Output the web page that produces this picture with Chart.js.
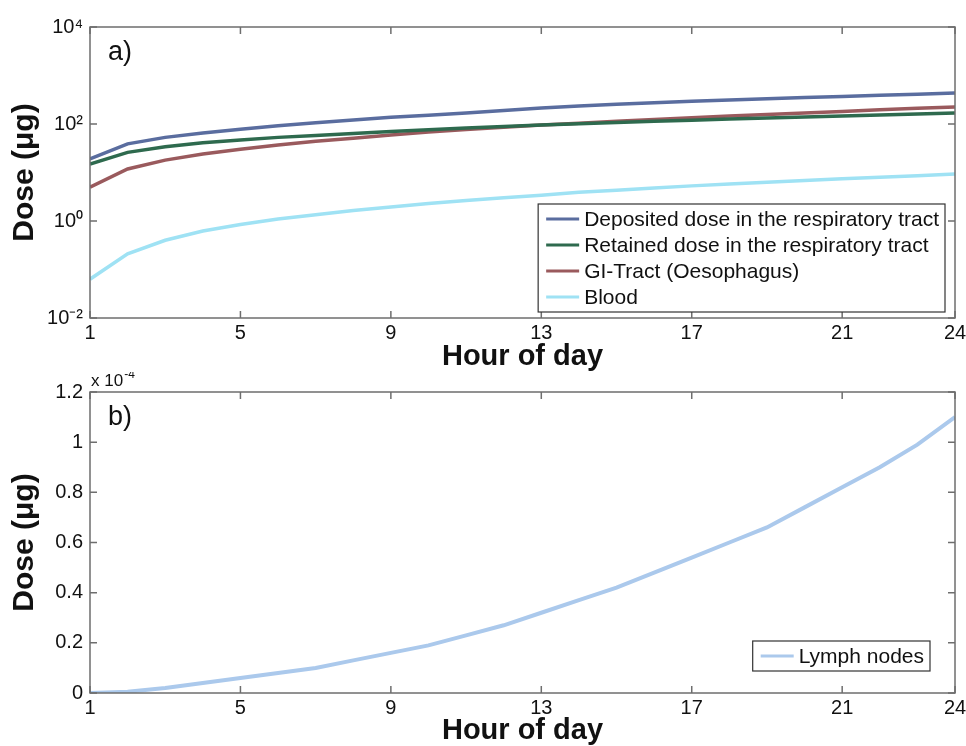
<!DOCTYPE html>
<html>
<head>
<meta charset="utf-8">
<script src="https://cdn.jsdelivr.net/npm/chart.js@4.4.1/dist/chart.umd.min.js"></script>
<style>
  html, body { margin: 0; padding: 0; background: #fff; }
  #wrap { position: relative; width: 966px; height: 746px; }
  #c1 { position: absolute; left: 0; top: 0; }
  #c2 { position: absolute; left: 0; top: 372px; }
</style>
</head>
<body>
<div id="wrap">
  <canvas id="c1" width="966" height="372"></canvas>
  <canvas id="c2" width="966" height="374"></canvas>
</div>
<script>
// ---- Data ----
const hours = [1,2,3,4,5,6,7,8,9,10,11,12,13,14,15,16,17,18,19,20,21,22,23,24];
const deposited = [19,39,53,65,78,92,106,121,138,152,168,190,213,234,254,274,293,312,331,350,370,392,413,435];
const retained  = [15,26,34,41,47,53,58,64,70,76,83,89,95,101,107,114,120,127,133,140,147,154,161,169];
const giTract   = [5,11.8,18,24,30,37,44,51,59,68,77,86,95,104,114,124,135,146,157,169,182,196,210,224];
const blood     = [0.063,0.21,0.40,0.62,0.85,1.1,1.35,1.65,1.95,2.3,2.65,3.0,3.4,3.9,4.3,4.8,5.3,5.8,6.3,6.8,7.4,8.0,8.6,9.3];
// lymph nodes dose in units of 1e-4 µg
const lymph     = [0,0.005,0.02,0.04,0.06,0.08,0.10,0.13,0.16,0.19,0.23,0.27,0.32,0.37,0.42,0.48,0.54,0.60,0.66,0.74,0.82,0.90,0.99,1.10];
const lymphScale = 1e-4;

const xTicks = [1,5,9,13,17,21,24];
const yTicksTop = [0.01, 1, 100, 10000];
const yTickLabelsTop = ['10\u207B\u00B2','10\u2070','10\u00B2','10\u2074'];
const yTicksBottom = [0,0.2,0.4,0.6,0.8,1.0,1.2];
const yTickLabelsBottom = ['0','0.2','0.4','0.6','0.8','1','1.2'];

const seriesTop = [
  {label:'Deposited dose in the respiratory tract', data: deposited, color:'#5a6d9f'},
  {label:'Retained dose in the respiratory tract', data: retained, color:'#2e6a4e'},
  {label:'GI-Tract (Oesophagus)', data: giTract, color:'#9a5a5d'},
  {label:'Blood', data: blood, color:'#9fe2f4'}
];

const FONT = '"Liberation Sans", Arial, sans-serif';
const TXT = '#111';
const FRAME = '#6e6e6e';

function pts(arr, scale) {
  return hours.map((h,i) => ({x:h, y: arr[i]*(scale||1)}));
}

function framePlugin(opts) {
  return {
    id: 'frame',
    afterDatasetsDraw(chart) {
      const {ctx, chartArea: a, scales} = chart;
      ctx.save();
      ctx.strokeStyle = FRAME;
      ctx.lineWidth = 1.5;
      ctx.strokeRect(a.left, a.top, a.right - a.left, a.bottom - a.top);
      const tl = 7;
      ctx.beginPath();
      scales.x.ticks.forEach(t => {
        const px = scales.x.getPixelForValue(t.value);
        ctx.moveTo(px, a.bottom); ctx.lineTo(px, a.bottom - tl);
        ctx.moveTo(px, a.top); ctx.lineTo(px, a.top + tl);
      });
      scales.y.ticks.forEach(t => {
        const py = scales.y.getPixelForValue(t.value);
        ctx.moveTo(a.left, py); ctx.lineTo(a.left + tl, py);
        ctx.moveTo(a.right, py); ctx.lineTo(a.right - tl, py);
      });
      ctx.stroke();

      ctx.fillStyle = TXT;
      ctx.font = '27px ' + FONT;
      ctx.textBaseline = 'middle';
      ctx.textAlign = 'left';
      ctx.fillText(opts.panel, a.left + 18, a.top + 26);

      if (opts.exponent) {
        ctx.font = '17px ' + FONT;
        ctx.textBaseline = 'alphabetic';
        ctx.fillText('x 10', a.left + 1, a.top - 6);
        const w = ctx.measureText('x 10').width;
        ctx.font = '12px ' + FONT;
        ctx.fillText('-4', a.left + 1 + w + 1, a.top - 14);
      }

      const L = opts.legend;
      const items = chart.data.datasets;
      ctx.font = L.font + 'px ' + FONT;
      let maxW = 0;
      items.forEach(d => { maxW = Math.max(maxW, ctx.measureText(d.label).width); });
      const boxW = L.pad + L.lineLen + L.gap + maxW + L.padR;
      const boxH = items.length * L.row + L.padV * 2;
      const bx = a.right - L.right - boxW;
      const by = a.bottom - L.bottom - boxH;
      ctx.fillStyle = '#fff';
      ctx.fillRect(bx, by, boxW, boxH);
      ctx.strokeStyle = '#333';
      ctx.lineWidth = 1.2;
      ctx.strokeRect(bx, by, boxW, boxH);
      items.forEach((d, i) => {
        const cy = by + L.padV + L.row * (i + 0.5);
        ctx.strokeStyle = d.borderColor;
        ctx.lineWidth = 3;
        ctx.beginPath();
        ctx.moveTo(bx + L.pad, cy);
        ctx.lineTo(bx + L.pad + L.lineLen, cy);
        ctx.stroke();
        ctx.fillStyle = TXT;
        ctx.textBaseline = 'middle';
        ctx.textAlign = 'left';
        ctx.fillText(d.label, bx + L.pad + L.lineLen + L.gap, cy + 1);
      });
      ctx.restore();
    }
  };
}

function xScale(height) {
  return {
    type: 'linear', min: 1, max: 24,
    afterBuildTicks: s => { s.ticks = xTicks.map(v => ({value: v})); },
    afterFit: s => { s.height = height; s.paddingLeft = 0; s.paddingRight = 0; },
    grid: {display: false, drawTicks: false},
    border: {display: false},
    ticks: {color: TXT, font: {family: FONT, size: 20}, padding: 3, maxRotation: 0, autoSkip: false,
            callback: v => String(v)},
    title: {display: true, text: 'Hour of day', color: TXT, font: {family: FONT, size: 29, weight: 'bold'},
            padding: {top: 0, bottom: -2}}
  };
}

function yTitle() {
  return {display: true, text: 'Dose (\u03BCg)', color: TXT, font: {family: FONT, size: 30, weight: 'bold'},
          padding: {top: 7, bottom: 0}};
}

Chart.defaults.animation = false;
Chart.defaults.font.family = FONT;

new Chart(document.getElementById('c1'), {
  type: 'line',
  data: {
    datasets: seriesTop.map(s => ({
      label: s.label, data: pts(s.data), borderColor: s.color, backgroundColor: s.color,
      borderWidth: 3.5, pointRadius: 0, tension: 0, fill: false
    }))
  },
  options: {
    responsive: false, animation: false,
    layout: {padding: {top: 27, right: 11, left: 0, bottom: 0}},
    plugins: {legend: {display: false}, tooltip: {enabled: false}},
    scales: {
      x: xScale(54),
      y: {
        type: 'logarithmic', min: 0.01, max: 10000,
        afterBuildTicks: s => { s.ticks = yTicksTop.map(v => ({value: v})); },
        afterFit: s => { s.width = 90; s.paddingTop = 0; s.paddingBottom = 0; },
        grid: {display: false, drawTicks: false},
        border: {display: false},
        ticks: {color: TXT, font: {family: FONT, size: 20}, padding: 7,
                callback: v => { const i = yTicksTop.findIndex(t => Math.abs(Math.log10(t) - Math.log10(v)) < 1e-6); return i >= 0 ? yTickLabelsTop[i] : ''; }},
        title: yTitle()
      }
    }
  },
  plugins: [framePlugin({panel: 'a)', legend: {font: 21, row: 26, padV: 2, pad: 8, lineLen: 33, gap: 5, padR: 6, right: 10, bottom: 6}})]
});

new Chart(document.getElementById('c2'), {
  type: 'line',
  data: {
    datasets: [{
      label: 'Lymph nodes', data: pts(lymph, lymphScale), borderColor: '#abc9ec', backgroundColor: '#abc9ec',
      borderWidth: 4, pointRadius: 0, tension: 0, fill: false
    }]
  },
  options: {
    responsive: false, animation: false,
    layout: {padding: {top: 20, right: 11, left: 0, bottom: 0}},
    plugins: {legend: {display: false}, tooltip: {enabled: false}},
    scales: {
      x: xScale(53),
      y: {
        type: 'linear', min: 0, max: 1.2 * lymphScale,
        afterBuildTicks: s => { s.ticks = yTicksBottom.map(v => ({value: v * lymphScale})); },
        afterFit: s => { s.width = 90; s.paddingTop = 0; s.paddingBottom = 0; },
        grid: {display: false, drawTicks: false},
        border: {display: false},
        ticks: {color: TXT, font: {family: FONT, size: 20}, padding: 7,
                callback: v => { const i = yTicksBottom.findIndex(t => Math.abs(t * lymphScale - v) < 1e-9); return i >= 0 ? yTickLabelsBottom[i] : ''; }},
        title: yTitle()
      }
    }
  },
  plugins: [framePlugin({panel: 'b)', exponent: true, legend: {font: 21, row: 26, padV: 2, pad: 8, lineLen: 33, gap: 5, padR: 6, right: 25, bottom: 22}})]
});
</script>
</body>
</html>
